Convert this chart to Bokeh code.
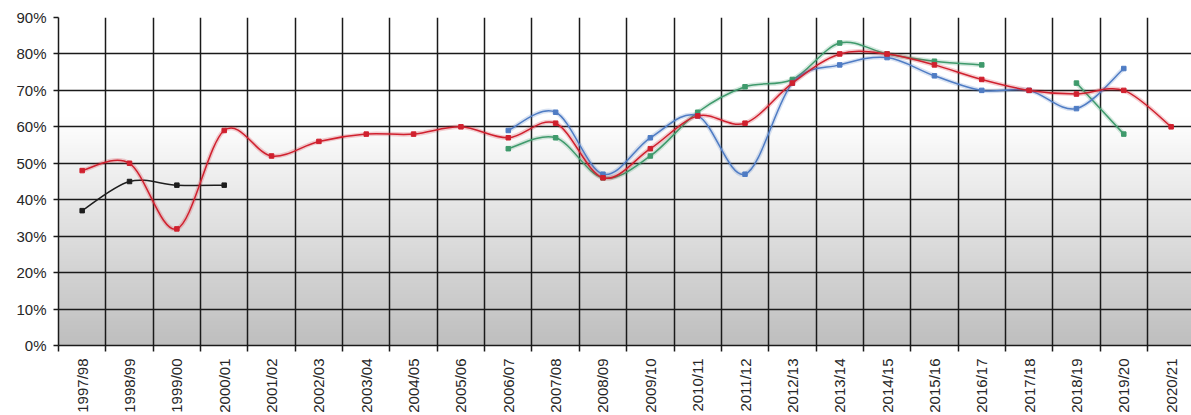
import numpy as np
from bokeh.plotting import figure
from bokeh.models import FixedTicker, PrintfTickFormatter
from bokeh.embed import file_html
from bokeh.resources import INLINE

seasons = ["1997/98", "1998/99", "1999/00", "2000/01", "2001/02", "2002/03",
           "2003/04", "2004/05", "2005/06", "2006/07", "2007/08", "2008/09",
           "2009/10", "2010/11", "2011/12", "2012/13", "2013/14", "2014/15",
           "2015/16", "2016/17", "2017/18", "2018/19", "2019/20", "2020/21"]
red = [48, 50, 32, 59, 52, 56, 58, 58, 60, 57, 61, 46,
       54, 63, 61, 72, 80, 80, 77, 73, 70, 69, 70, 60]
black = [37, 45, 44, 44] + [None] * 20
blue = [None] * 9 + [59, 64, 47, 57, 63, 47, 72, 77, 79, 74, 70, 70, 65, 76, None]
green = [None] * 9 + [54, 57, 46, 52, 64, 71, 73, 83, 80, 78, 77, None, 72, 58, None]
y_ticks = list(range(0, 100, 10))

series = [
    (black, "#1e1e1e", False),
    (green, "#3f9a6c", True),
    (blue, "#4f7cc4", True),
    (red, "#d0202e", True),
]

n = len(seasons)
centers = list(range(n))
bounds = [i - 0.5 for i in range(n + 1)]

p = figure(width=1191, height=415, x_range=(-0.5, 23.43), y_range=(0, 90),
           output_backend="svg", toolbar_location=None,
           min_border_left=58, min_border_right=0, min_border_top=17,
           min_border_bottom=66)
p.outline_line_color = None
p.background_fill_color = "white"
p.border_fill_color = "white"

# background gradient (white at top, grey at bottom)
H = 180
img = np.empty((H, 1), dtype=np.uint32)
view = img.view(dtype=np.uint8).reshape((H, 1, 4))
for i in range(H):
    v = (i + 0.5) * 90.0 / H
    g = int(round(190 + (255 - 190) * min(v / 63.0, 1.0)))
    view[i, 0, :] = [g, g, g, 255]
p.image_rgba(image=[img], x=-0.5, y=0, dw=n, dh=90, level="image")


def runs(vals):
    out, cur = [], []
    for i, v in enumerate(vals):
        if v is None:
            if cur:
                out.append(cur)
            cur = []
        else:
            cur.append((i, v))
    if cur:
        out.append(cur)
    return out


def bez(vals):
    d = {k: [] for k in ["x0", "y0", "x1", "y1", "cx0", "cy0", "cx1", "cy1"]}
    for r in runs(vals):
        m = len(r)
        for j in range(m - 1):
            p0 = r[j - 1] if j > 0 else r[j]
            p1 = r[j]
            p2 = r[j + 1]
            p3 = r[j + 2] if j + 2 < m else r[j + 1]
            d["x0"].append(p1[0]); d["y0"].append(p1[1])
            d["x1"].append(p2[0]); d["y1"].append(p2[1])
            d["cx0"].append(p1[0] + (p2[0] - p0[0]) / 6.0)
            d["cy0"].append(p1[1] + (p2[1] - p0[1]) / 6.0)
            d["cx1"].append(p2[0] - (p3[0] - p1[0]) / 6.0)
            d["cy1"].append(p2[1] - (p3[1] - p1[1]) / 6.0)
    return d


for vals, col, halo in series:
    d = bez(vals)
    if halo:
        p.bezier(x0=d["x0"], y0=d["y0"], x1=d["x1"], y1=d["y1"],
                 cx0=d["cx0"], cy0=d["cy0"], cx1=d["cx1"], cy1=d["cy1"],
                 line_color=col, line_alpha=0.22, line_width=4.5)
    p.bezier(x0=d["x0"], y0=d["y0"], x1=d["x1"], y1=d["y1"],
             cx0=d["cx0"], cy0=d["cy0"], cx1=d["cx1"], cy1=d["cy1"],
             line_color=col, line_width=1.5)
    xs = [i for i, v in enumerate(vals) if v is not None]
    ys = [v for v in vals if v is not None]
    p.scatter(xs, ys, marker="square", size=4.5, fill_color=col, line_color=col)

# grids
p.xgrid.ticker = FixedTicker(ticks=bounds)
p.ygrid.ticker = FixedTicker(ticks=y_ticks)
for g in (p.xgrid, p.ygrid):
    g.grid_line_color = "#1a1a1a"
    g.grid_line_width = 1.5
    g.level = "underlay"

# x axis
p.xaxis.ticker = FixedTicker(ticks=centers, minor_ticks=bounds)
p.xaxis.major_label_overrides = {i: s for i, s in enumerate(seasons)}
p.xaxis.major_label_orientation = np.pi / 2
p.xaxis.major_tick_out = 0
p.xaxis.major_tick_in = 0
p.xaxis.minor_tick_out = 6
p.xaxis.minor_tick_in = 0
p.xaxis.minor_tick_line_color = "#1a1a1a"
p.xaxis.minor_tick_line_width = 1.5
p.xaxis.major_label_standoff = 7
p.xaxis.axis_line_color = "#1a1a1a"
p.xaxis.axis_line_width = 1.5

# y axis
p.yaxis.ticker = FixedTicker(ticks=y_ticks)
p.yaxis.formatter = PrintfTickFormatter(format="%d%%")
p.yaxis.major_tick_out = 5
p.yaxis.major_tick_in = 0
p.yaxis.minor_tick_line_color = None
p.yaxis.major_tick_line_color = "#1a1a1a"
p.yaxis.major_tick_line_width = 1.5
p.yaxis.major_label_standoff = 7
p.yaxis.axis_line_color = "#1a1a1a"
p.yaxis.axis_line_width = 1.5

for ax in (p.xaxis, p.yaxis):
    ax.major_label_text_font = "Liberation Sans"
    ax.major_label_text_color = "#262626"
p.xaxis.major_label_text_font_size = "15px"
p.yaxis.major_label_text_font_size = "15px"

open("out.html", "w").write(file_html(p, INLINE))
